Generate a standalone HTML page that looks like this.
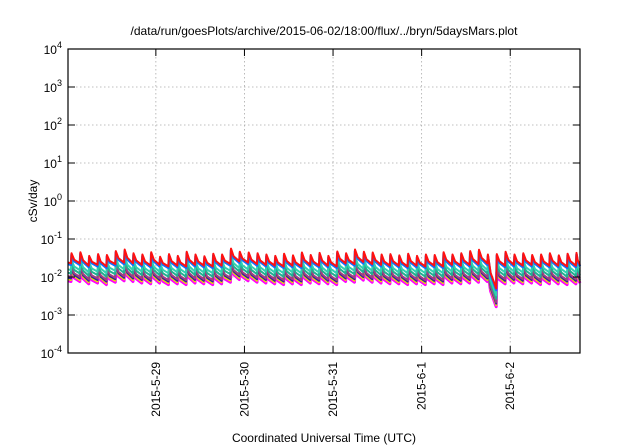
<!DOCTYPE html>
<html><head><meta charset="utf-8"><style>
html,body{margin:0;padding:0;background:#fff;}
svg{display:block;font-family:"Liberation Sans",sans-serif;}
</style></head><body>
<svg id="chart" width="640" height="448" viewBox="0 0 640 448" xmlns="http://www.w3.org/2000/svg">
<text x="324" y="35" font-size="12" text-anchor="middle" fill="#000">/data/run/goesPlots/archive/2015-06-02/18:00/flux/../bryn/5daysMars.plot</text>
<text transform="translate(37,201) rotate(-90)" font-size="12" text-anchor="middle">cSv/day</text>
<text x="324" y="442" font-size="12" text-anchor="middle">Coordinated Universal Time (UTC)</text>
<g id="grid"></g>
<g id="series"></g>
<g id="axes"></g>
</svg>
<script>
const yTickExp = [-4,-3,-2,-1,0,1,2,3,4];
const xTickLabels = ["2015-5-29","2015-5-30","2015-5-31","2015-6-1","2015-6-2"];
const xTickHours = [24,48,72,96,120];
const toothHours = [1.0,3.4,5.8,8.2,10.6,13.0,15.4,17.8,20.2,22.6,25.0,27.4,29.8,32.2,34.6,37.0,39.4,41.8,44.2,46.6,49.0,51.4,53.8,56.2,58.6,61.0,63.4,65.8,68.2,70.6,73.0,75.4,77.8,80.2,82.6,85.0,87.4,89.8,92.2,94.6,97.0,99.4,101.8,104.2,106.6,109.0,111.4,113.8,116.2,118.6,121.0,123.4,125.8,128.2,130.6,133.0,135.4,137.8];
const redPeaks = [4.2,4.5,3.6,4.0,3.8,4.8,5.3,4.2,3.9,4.5,3.4,4.0,3.6,4.6,3.9,3.5,4.1,3.9,5.6,4.6,4.4,4.2,3.9,3.6,4.1,3.7,4.4,3.8,4.3,3.6,4.7,4.2,5.3,4.6,4.4,3.9,4.0,3.7,4.1,3.6,3.9,3.8,4.5,3.9,4.2,4.8,5.2,3.9,4.0,4.6,3.9,4.2,3.8,3.9,4.2,3.7,4.1,4.3];
const redTroughs = [2.3,2.0,2.1,1.9,2.2,2.4,2.3,2.1,2.0,2.1,1.9,2.0,1.9,2.1,2.0,1.9,2.0,2.2,2.6,2.4,2.2,2.1,2.0,1.9,2.0,1.9,2.1,2.0,2.0,1.9,2.3,2.2,2.5,2.2,2.1,2.0,2.0,1.9,2.0,1.9,2.0,1.9,2.1,2.0,2.1,2.2,2.3,0.5,2.0,2.1,2.0,2.1,1.9,2.0,2.0,1.9,2.0,2.1];
const seriesNames = ["magenta","yellow","navy","purple","seagreen","teal","blue","red"];
const seriesColors = ["#ff00ff","#e8e000","#3020a0","#a04080","#20b090","#30d0b0","#1070ff","#ff1010"];
const seriesLogOffset = [-0.48,-0.44,-0.40,-0.36,-0.27,-0.18,-0.04,0];
const seriesWidth = [3,2,2,2,2,2,2.5,2];

const L=68,R=580,T=49,B=353,H0=0.2,H1=138.9;
const ns="http://www.w3.org/2000/svg";
function xs(h){return L+(h-H0)*(R-L)/(H1-H0);}
function ys(v){const e=Math.log10(v);return B-(e+4)*(B-T)/8;}
function mk(tag,attrs,parent){const el=document.createElementNS(ns,tag);for(const k in attrs)el.setAttribute(k,attrs[k]);parent.appendChild(el);return el;}
const grid=document.getElementById('grid'),axes=document.getElementById('axes'),ser=document.getElementById('series');
yTickExp.forEach(e=>{
  const y=ys(Math.pow(10,e));
  if(e>-4&&e<4){const g=mk('line',{x1:L,x2:R,y1:y,y2:y,stroke:'#aaa','stroke-width':0.8,'stroke-dasharray':'1.5,2.5'},grid);
  }
  const t1=mk('line',{x1:L,x2:L+7,y1:y,y2:y,stroke:'#000','stroke-width':1},axes);
  
  const t2=mk('line',{x1:R-7,x2:R,y1:y,y2:y,stroke:'#000','stroke-width':1},axes);
  
  const tx=mk('text',{x:L-6,y:y+5,'font-size':12,'text-anchor':'end'},axes);
  
  tx.appendChild(document.createTextNode('10'));
  const sp=mk('tspan',{dy:-6,'font-size':9},tx);sp.textContent=String(e);
});
xTickHours.forEach((h,i)=>{
  const x=xs(h);
  const g=mk('line',{x1:x,x2:x,y1:T,y2:B,stroke:'#aaa','stroke-width':0.8,'stroke-dasharray':'1.5,2.5'},grid);
  
  const t1=mk('line',{x1:x,x2:x,y1:B-7,y2:B,stroke:'#000','stroke-width':1},axes);
  
  const t2=mk('line',{x1:x,x2:x,y1:T,y2:T+7,stroke:'#000','stroke-width':1},axes);
  
  const tx=mk('text',{transform:`translate(${x+4},362) rotate(-90)`,'font-size':12,'text-anchor':'end'},axes);
  
  tx.textContent=xTickLabels[i];
});
const fr=mk('rect',{x:L,y:T,width:R-L,height:B-T,fill:'none',stroke:'#000','stroke-width':1.2},axes);


seriesNames.forEach((nm,s)=>{
  const f=Math.pow(10,seriesLogOffset[s]);
  let pts=[];
  const P=2.4;
  pts.push([H0,redTroughs[0]*1.05*f*0.01]);
  for(let i=0;i<toothHours.length;i++){
    const t=toothHours[i];
    const prevTr=i>0?redTroughs[i-1]:redTroughs[0];
    const pk=redPeaks[i]*f*0.01, tr=redTroughs[i]*f*0.01;
    pts.push([t,prevTr*f*0.01]);
    pts.push([t+0.15,pk]);
    const tn=Math.min(t+P,H1);
    pts.push([t+0.15+(tn-t)*0.3,Math.sqrt(pk*tr)*0.92]);
    pts.push([tn,tr]);
  }
  const d=pts.filter(p=>p[0]<=H1).map((p,i)=>(i?'L':'M')+xs(p[0]).toFixed(1)+','+ys(p[1]).toFixed(1)).join('');
  const path=mk('path',{d:d,fill:'none',stroke:seriesColors[s],'stroke-width':seriesWidth[s],'stroke-linejoin':'round'},ser);
  
  
});
</script>
</body></html>
